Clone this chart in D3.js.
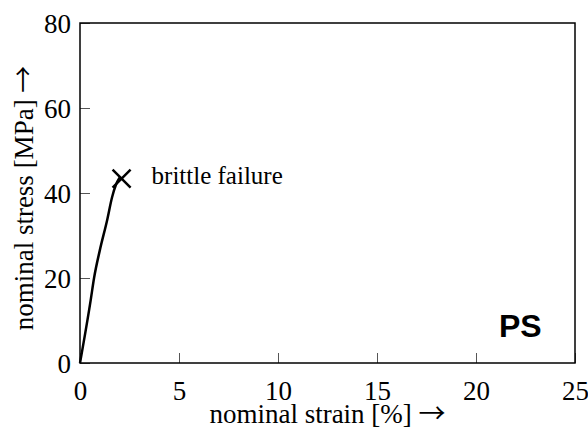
<!DOCTYPE html>
<html>

<head>
    <title>ps_stress_strain</title>
    <script src="https://d3js.org/d3.v7.min.js"></script>
    <style>
        body { margin: 0; background: #fff; }
    </style>
</head>

<body>
    <svg width="588" height="437" id="mainsvg"></svg>
    <script>
        // curve
        const strain = [0, 0.54, 0.71, 1.0, 1.37, 1.62, 1.82, 2.0];
        const stress = [0, 14.8, 20, 26.5, 33.6, 39, 42, 43.6];
        const failure = [2.1, 43.4];
        const xTicks = [0, 5, 10, 15, 20, 25];
        const yTicks = [0, 20, 40, 60, 80];

        const svg = d3.select('#mainsvg');
        const margin = { top: 23, right: 13, bottom: 74, left: 80 };
        const innerWidth = 588 - margin.left - margin.right;
        const innerHeight = 437 - margin.top - margin.bottom;
        const g = svg.append('g')
            .attr('transform', `translate(${margin.left},${margin.top})`);

        const x = d3.scaleLinear().domain([0, 25]).range([0, innerWidth]);
        const y = d3.scaleLinear().domain([0, 80]).range([innerHeight, 0]);
        const serif = '"Liberation Serif", "Times New Roman", serif';
        const arrowFont = '"Noto Sans CJK JP", "DejaVu Sans", sans-serif';

        // ticks inward, on left and bottom only
        const xAxis = g.append('g').attr('transform', `translate(0,${innerHeight})`)
            .call(d3.axisBottom(x).tickValues(xTicks).tickSize(-10).tickPadding(18));
        const yAxis = g.append('g')
            .call(d3.axisLeft(y).tickValues(yTicks).tickSize(-10).tickPadding(9));
        [xAxis, yAxis].forEach(a => {
            a.attr('font-family', serif).attr('font-size', 27);
            a.select('.domain').remove();
            a.selectAll('line').attr('stroke', '#555').attr('stroke-width', 1);
            a.selectAll('text').attr('fill', '#000');
        });
        xAxis.selectAll('text').attr('dy', '0.71em');
        yAxis.selectAll('text').attr('dy', '0.35em');

        g.append('rect')
            .attr('width', innerWidth).attr('height', innerHeight)
            .attr('fill', 'none').attr('stroke', '#000').attr('stroke-width', 1.5);

        const pts = strain.map((s, i) => [s, stress[i]]);
        g.append('path')
            .datum(pts)
            .attr('fill', 'none')
            .attr('stroke', '#000')
            .attr('stroke-width', 2.5)
            .attr('d', d3.line().x(d => x(d[0])).y(d => y(d[1])).curve(d3.curveMonotoneX));

        // failure cross
        const fx = x(failure[0]), fy = y(failure[1]), s = 9;
        g.append('path')
            .attr('d', `M${fx - s},${fy - s}L${fx + s},${fy + s}M${fx - s},${fy + s}L${fx + s},${fy - s}`)
            .attr('stroke', '#000').attr('stroke-width', 2.5);

        g.append('text')
            .attr('x', fx + 30).attr('y', fy + 5)
            .attr('font-family', serif).attr('font-size', 25)
            .text('brittle failure');

        g.append('text')
            .attr('x', innerWidth - 76).attr('y', innerHeight - 26)
            .attr('font-family', '"Liberation Sans", Arial, sans-serif')
            .attr('font-weight', 'bold').attr('font-size', 32)
            .text('PS');

        const xl = svg.append('text')
            .attr('x', margin.left + innerWidth / 2).attr('y', 423)
            .attr('text-anchor', 'middle')
            .attr('font-family', serif).attr('font-size', 27);
        xl.append('tspan').text('nominal strain [%] ');
        xl.append('tspan').attr('font-family', arrowFont).attr('font-size', 27).text('\u2192');

        const yl = svg.append('text')
            .attr('transform', `translate(33,198) rotate(-90)`)
            .attr('text-anchor', 'middle')
            .attr('font-family', serif).attr('font-size', 27);
        yl.append('tspan').text('nominal stress [MPa] ');
        yl.append('tspan').attr('font-family', arrowFont).attr('font-size', 27).text('\u2192');
    </script>
</body>

</html>
